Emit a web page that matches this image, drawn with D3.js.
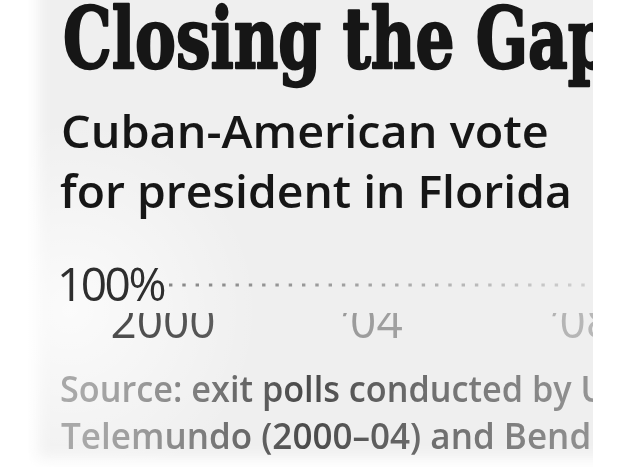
<!DOCTYPE html>
<html><head><meta charset="utf-8">
<script src="https://cdn.jsdelivr.net/npm/d3@7"></script>
<style>html,body{margin:0;padding:0;background:#fff;overflow:hidden}</style>
</head><body>
<script>
// ---- data ----
const titleText = "Closing the Gap";
const subtitleLines = ["Cuban-American vote", "for president in Florida"];
const years = ["2000", "\u201904", "\u201908"];
const yTicks = [100];
const sourceLines = ["Source: exit polls conducted by Univision/", "Telemundo (2000\u201304) and Bendixen & Associates (2008)"];

// ---- layout ----
const W = 623, H = 467;
const svg = d3.select("body").append("svg").attr("width", W).attr("height", H);
const defs = svg.append("defs");

const soft = defs.append("filter").attr("id", "soft").attr("x", "-20%").attr("y", "-20%").attr("width", "140%").attr("height", "140%");
soft.append("feGaussianBlur").attr("stdDeviation", 7);
const blurTxt = defs.append("filter").attr("id", "blurTxt").attr("x", "-5%").attr("y", "-20%").attr("width", "110%").attr("height", "140%");
blurTxt.append("feGaussianBlur").attr("stdDeviation", 0.7);

defs.append("clipPath").attr("id", "panelClip").append("rect")
  .attr("x", 28).attr("y", 0).attr("width", 565).attr("height", H);
defs.append("clipPath").attr("id", "labelClip").append("rect")
  .attr("x", 28).attr("y", 313).attr("width", 565).attr("height", 60);

function hGrad(id, stops) {
  const g = defs.append("linearGradient").attr("id", id)
    .attr("gradientUnits", "userSpaceOnUse").attr("x1", 28).attr("x2", 593).attr("y1", 0).attr("y2", 0);
  stops.forEach(([o, c]) => g.append("stop").attr("offset", o).attr("stop-color", c));
}
hGrad("srcGrad", [[0, "#a8a8a8"], [0.1, "#9a9a9a"], [0.4, "#4a4a4a"], [0.6, "#6a6a6a"], [1, "#9c9c9c"]]);
hGrad("lblGrad", [[0, "#444"], [0.3, "#555"], [0.55, "#999"], [1, "#b8b8b8"]]);
hGrad("dotGrad", [[0, "#777"], [0.5, "#999"], [1, "#d0d0d0"]]);

// background panel
svg.append("rect").attr("x", 0).attr("y", 0).attr("width", W).attr("height", H).attr("fill", "#fff");
const panel = svg.append("g").attr("clip-path", "url(#panelClip)");
panel.append("rect").attr("x", 38).attr("y", -20).attr("width", 620).attr("height", 478)
  .attr("fill", "#efefef").attr("filter", "url(#soft)");
const glow = defs.append("radialGradient").attr("id", "glow").attr("gradientUnits", "userSpaceOnUse")
  .attr("cx", 70).attr("cy", 310).attr("r", 190);
glow.append("stop").attr("offset", 0).attr("stop-color", "#fff").attr("stop-opacity", 0.75);
glow.append("stop").attr("offset", 1).attr("stop-color", "#fff").attr("stop-opacity", 0);
panel.append("rect").attr("x", 28).attr("y", 0).attr("width", 565).attr("height", H).attr("fill", "url(#glow)");

const content = svg.append("g").attr("clip-path", "url(#panelClip)").append("g").attr("filter", "url(#blurTxt)");

// helper: place text with horizontal scale so a prefix reaches a target width
function placeFitted(g, str, x, y, prefix, targetW, attrs) {
  const t = g.append("text").text(prefix);
  Object.entries(attrs).forEach(([k, v]) => t.attr(k, v));
  const w = t.node().getComputedTextLength();
  t.text(str);
  const s = targetW / w;
  t.attr("transform", `translate(${x},${y}) scale(${s},1)`);
  return t;
}

// title
placeFitted(content, titleText, 63, 68, "Closing the Ga", 505, {
  "font-family": "'DejaVu Serif',serif", "font-weight": "bold",
  "font-size": 84, "fill": "#141414", "stroke": "#141414", "stroke-width": 2.4, "stroke-linejoin": "round"
});

// subtitle
const subAttrs = {"font-family": "'Open Sans',sans-serif", "font-weight": 600, "font-size": 45, "fill": "#161616"};
placeFitted(content, subtitleLines[0], 61, 148, subtitleLines[0], 488, subAttrs);
placeFitted(content, subtitleLines[1], 60, 208, subtitleLines[1], 512, subAttrs);

// scales
const x = d3.scalePoint().domain(years).range([163, 582]);
const y = d3.scaleLinear().domain([0, 100]).range([600, 285]);

// gridline at 100%
content.selectAll("line.grid").data(yTicks).join("line")
  .attr("class", "grid")
  .attr("x1", 169).attr("x2", 600)
  .attr("y1", d => y(d)).attr("y2", d => y(d))
  .attr("stroke", "url(#dotGrad)").attr("stroke-width", 3.2)
  .attr("stroke-dasharray", "3.4 9.9");

// y tick label
content.selectAll("text.ytick").data(yTicks).join("text")
  .attr("class", "ytick")
  .attr("x", 57).attr("y", d => y(d) + 16)
  .attr("font-family", "'Open Sans',sans-serif").attr("font-size", 46)
  .attr("letter-spacing", -2.5)
  .attr("fill", "#2e2e2e")
  .text(d => d + "%");

// x axis labels (top part hidden)
const lbl = content.append("g").attr("clip-path", "url(#labelClip)");
lbl.selectAll("text").data(years).join("text")
  .attr("x", d => x(d)).attr("y", 338)
  .attr("text-anchor", "middle")
  .attr("font-family", "'Open Sans',sans-serif").attr("font-size", 46)
  .attr("fill", "url(#lblGrad)")
  .text(d => d);

// source
const srcAttrs = {"font-family": "'Open Sans',sans-serif", "font-weight": 600, "font-size": 36, "fill": "url(#srcGrad)"};
placeFitted(content, sourceLines[0], 60, 402, "Source: exit polls conducted by", 512, srcAttrs);
placeFitted(content, sourceLines[1], 61, 449, "Telemundo (2000\u201304) and", 434, srcAttrs);
</script>
</body></html>
